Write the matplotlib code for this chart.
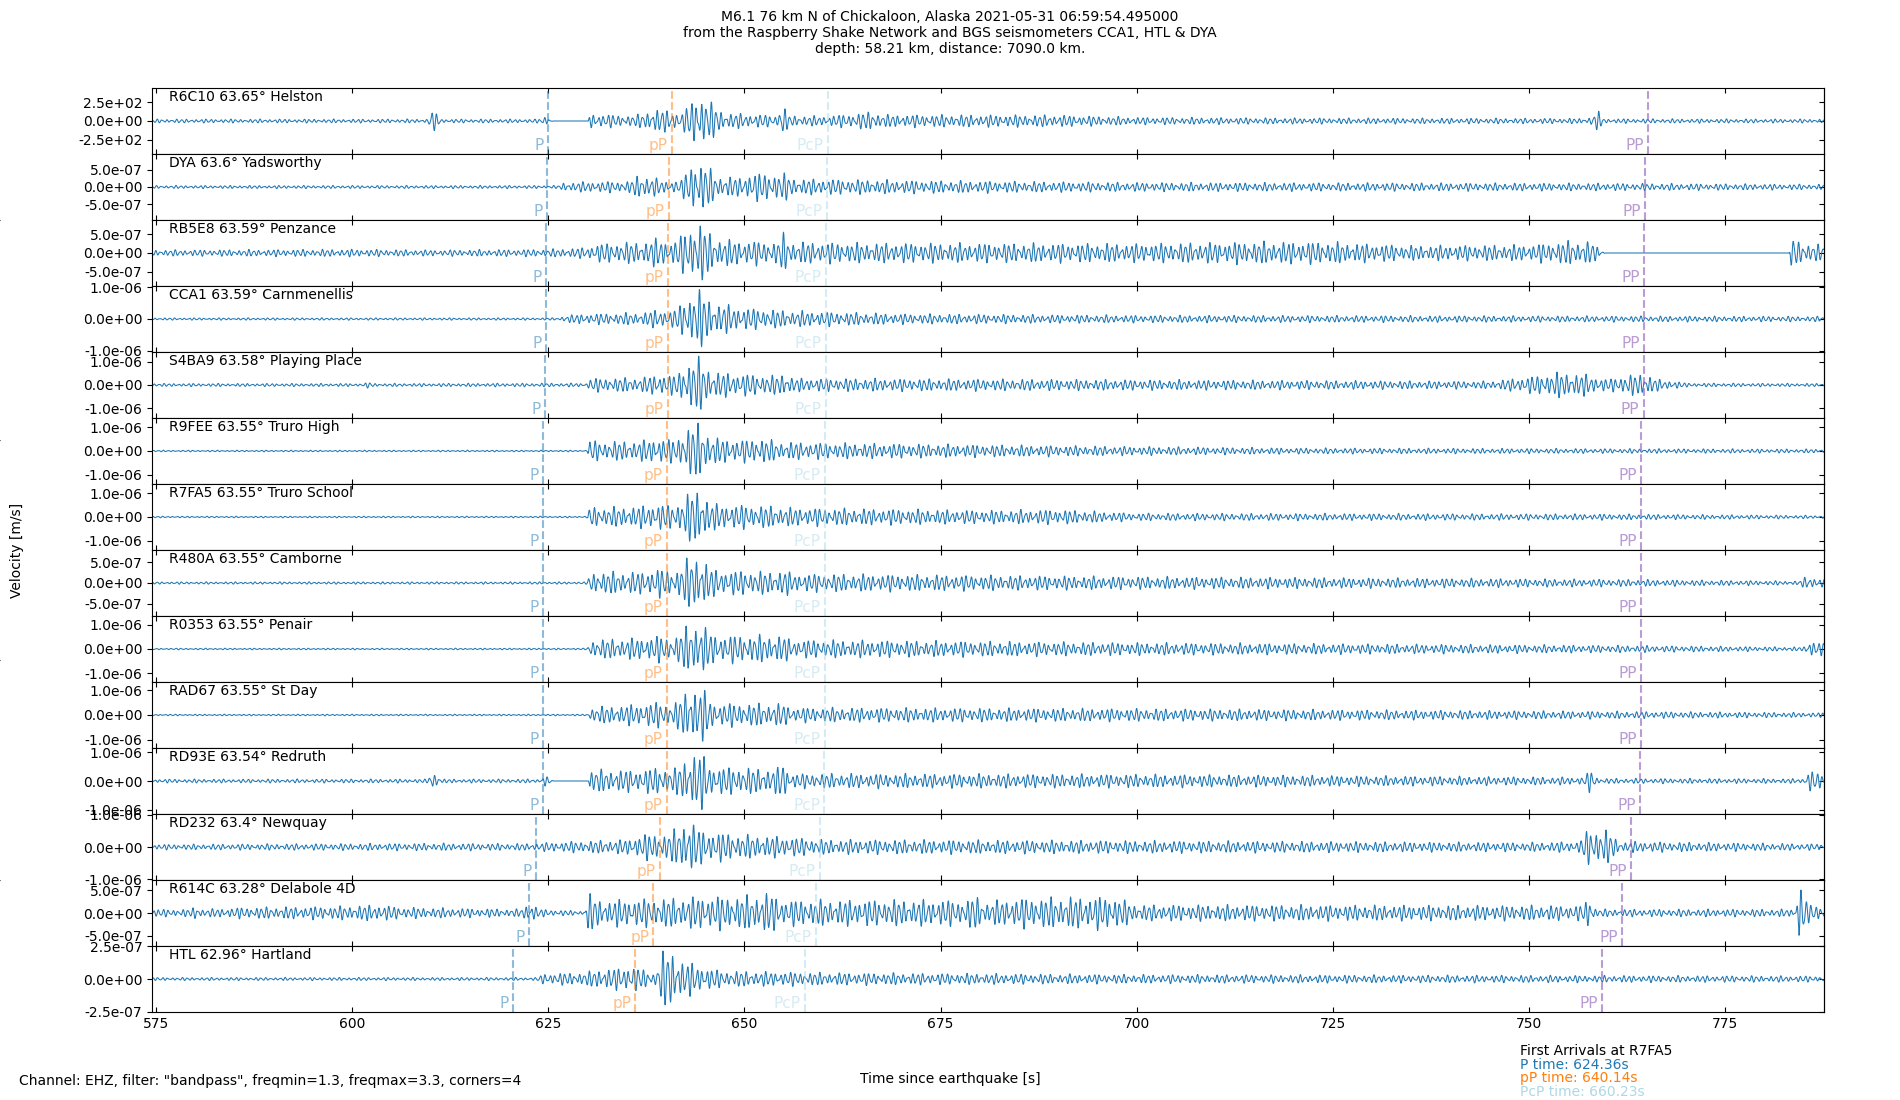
import numpy as np
import matplotlib
matplotlib.use('Agg')
import matplotlib.pyplot as plt
from matplotlib.ticker import FormatStrFormatter

# estaciones, de arriba a abajo
stations = ['R6C10', 'DYA', 'RB5E8', 'CCA1', 'S4BA9', 'R9FEE', 'R7FA5',
            'R480A', 'R0353', 'RAD67', 'RD93E', 'RD232', 'R614C', 'HTL']
distances = [63.65, 63.6, 63.59, 63.59, 63.58, 63.55, 63.55,
             63.55, 63.55, 63.55, 63.54, 63.4, 63.28, 62.96]
places = ['Helston', 'Yadsworthy', 'Penzance', 'Carnmenellis', 'Playing Place',
          'Truro High', 'Truro School', 'Camborne', 'Penair', 'St Day',
          'Redruth', 'Newquay', 'Delabole 4D', 'Hartland']

# tiempos de llegada [s]
p_times = [625.0, 624.8, 624.7, 624.7, 624.6, 624.36, 624.36,
           624.36, 624.36, 624.36, 624.3, 623.4, 622.6, 620.5]
pp_depth_times = [640.8, 640.4, 640.3, 640.3, 640.3, 640.14, 640.14,
                  640.14, 640.14, 640.14, 640.1, 639.2, 638.4, 636.1]
pcp_times = [660.6, 660.5, 660.4, 660.4, 660.4, 660.23, 660.23,
             660.23, 660.23, 660.23, 660.2, 659.6, 659.1, 657.7]
PP_times = [765.2, 764.8, 764.7, 764.7, 764.6, 764.3, 764.3,
            764.3, 764.3, 764.3, 764.2, 763.0, 761.9, 759.3]

# rango del eje y (m/s) y ticks de cada traza
y_half = [4.4e2, 9.7e-7, 8.8e-7, 1.04e-6, 1.43e-6, 1.4e-6, 1.4e-6,
          8.0e-7, 1.36e-6, 1.33e-6, 1.14e-6, 1.03e-6, 7.2e-7, 2.52e-7]
y_tick = [2.5e2, 5e-7, 5e-7, 1e-6, 1e-6, 1e-6, 1e-6,
          5e-7, 1e-6, 1e-6, 1e-6, 1e-6, 5e-7, 2.5e-7]

# envolventes: (tiempo, fraccion de y_half)
env_r6c10 = [(574.5, .05), (609.6, .05), (610.2, .3), (611.5, .05), (624.0, .05), (624.6, .14),
             (625.3, .05), (625.6, 0), (630.1, 0), (630.3, .2), (636, .14), (638, .3), (640.5, .3),
             (642, .2), (643.5, .6), (644.4, .73), (646, .45), (647.5, .22), (654.2, .15),
             (654.8, .5), (655.6, .15), (660, .13), (664, .2), (666, .25), (668, .17), (690, .16),
             (700, .1), (720, .08), (757.5, .07), (758.8, .27), (759.6, .06), (787.6, .05)]
env_dya = [(574.5, .04), (626.4, .04), (627, .12), (630, .14), (635.5, .16), (636.5, .32),
           (638.3, .3), (639.5, .15), (642, .2), (643.6, .75), (645.1, .6), (646.5, .3),
           (649.5, .25), (650.5, .38), (655.3, .36), (656.5, .22), (670, .18), (700, .12),
           (760, .1), (787.6, .07)]
env_rb5e8 = [(574.5, .08), (600, .1), (610, .08), (625, .1), (630, .15), (631, .25), (637, .3),
             (639, .4), (641, .3), (643.2, .75), (644.5, .8), (646, .45), (648, .35), (654.3, .3),
             (654.9, .55), (656, .3), (665, .27), (700, .25), (715, .3), (724, .3), (735, .2),
             (750, .22), (755, .32), (758, .3), (759.7, 0), (783.2, 0), (783.5, .45),
             (784.5, .3), (787.6, .2)]
env_cca1 = [(574.5, .03), (626.5, .03), (627, .1), (630, .14), (637, .17), (639, .26),
            (641, .22), (643.2, .7), (644.4, .78), (646, .45), (650, .3), (656, .22), (670, .14),
            (700, .1), (787.6, .07)]
env_s4ba9 = [(574.5, .04), (601.5, .04), (602, .08), (603, .04), (630, .05), (630.3, .18),
             (637, .2), (639, .3), (641, .25), (643.2, .68), (644.4, .72), (646, .35), (654, .25),
             (655, .32), (656.5, .18), (700, .14), (745, .1), (751, .25), (754, .35), (757, .3),
             (760, .15), (762.5, .28), (765.5, .28), (767, .1), (768.5, .13), (770, .05),
             (787.6, .04)]
env_r9fee = [(574.5, .02), (630.0, .02), (630.3, .3), (632, .25), (637, .28), (639, .36),
             (641, .3), (643.2, .7), (644.4, .75), (646, .35), (650, .3), (652.3, .36), (654, .25),
             (660, .22), (675, .18), (700, .12), (720, .08), (787.6, .05)]
env_r7fa5 = [(574.5, .02), (630.0, .02), (630.3, .3), (632, .25), (637, .3), (639, .36),
             (641, .3), (643.2, .7), (644.4, .74), (646, .35), (653, .3), (656, .25), (680, .18),
             (690, .2), (700, .1), (760, .08), (787.6, .04)]
env_r480a = [(574.5, .03), (630.0, .03), (630.3, .3), (637, .3), (639, .4), (641, .3),
             (643.2, .72), (644.4, .77), (646, .35), (654.3, .3), (654.9, .42), (656, .25),
             (700, .17), (760, .1), (784.5, .05), (785.3, .18), (787.6, .1)]
env_r0353 = [(574.5, .02), (630.0, .02), (630.3, .25), (637, .3), (639, .36), (641, .3),
             (643.2, .7), (644.4, .74), (646, .38), (655, .36), (656, .25), (700, .17),
             (760, .1), (785, .05), (785.8, .25), (787.6, .15)]
env_rad67 = [(574.5, .02), (630.0, .02), (630.3, .2), (637, .3), (639, .35), (641, .3),
             (643.2, .75), (644.4, .8), (646, .32), (655, .3), (656, .2), (700, .17),
             (760, .1), (787.6, .06)]
env_rd93e = [(574.5, .05), (609.6, .05), (610.2, .28), (611.5, .05), (624.0, .05), (624.6, .15),
             (625.3, .05), (625.6, 0), (630.1, 0), (630.3, .3), (637, .3), (639, .38), (641, .3),
             (643.2, .75), (644.2, .82), (646, .38), (654.2, .33), (654.8, .6), (655.7, .2),
             (700, .18), (757, .1), (757.8, .32), (758.8, .07), (785, .06), (785.7, .3),
             (787.6, .15)]
env_rd232 = [(574.5, .07), (610, .1), (622, .09), (628, .15), (635, .2), (637, .35), (640, .35),
             (641.5, .5), (642.7, .8), (644.5, .45), (650, .32), (655, .28), (660, .2), (700, .17),
             (750, .12), (756.5, .15), (757.5, .5), (760, .45), (761.5, .15), (787.6, .08)]
env_r614c = [(574.5, .1), (579.5, .1), (580, .2), (581, .1), (586, .15), (598, .18), (603, .22),
             (607, .15), (621.5, .1), (622.7, .3), (624, .1), (629.7, .05), (630, .55),
             (631.5, .35), (641, .4), (645, .45), (650, .45), (653, .55), (655, .35), (665, .35),
             (678.5, .35), (679.3, .5), (680.5, .3), (685, .4), (697, .45), (700, .22),
             (756.8, .2), (757.6, .45), (758.6, .1), (784, .1), (784.5, .95), (785.5, .25),
             (787.6, .2)]
env_htl = [(574.5, .04), (623.5, .04), (624.5, .15), (630, .18), (631, .26), (634.5, .3),
           (635.3, .38), (636.5, .3), (638.5, .15), (639.5, .7), (640.3, .8), (642, .55),
           (643.5, .4), (647, .22), (660, .17), (700, .12), (787.6, .08)]

envelopes = [env_r6c10, env_dya, env_rb5e8, env_cca1, env_s4ba9, env_r9fee, env_r7fa5,
             env_r480a, env_r0353, env_rad67, env_rd93e, env_rd232, env_r614c, env_htl]

t_start, t_end = 574.5, 787.6
fs = 25.0  # muestras por segundo

phase_names = ['P', 'pP', 'PcP', 'PP']
phase_colors = ['tab:blue', 'tab:orange', 'lightblue', 'tab:purple']
phase_alpha = [0.5, 0.5, 0.5, 0.65]


def traza(env, k):
    # forma de onda a partir de la envolvente
    t = np.arange(t_start, t_end, 1.0 / fs)
    et = np.array([e[0] for e in env])
    ev = np.array([e[1] for e in env])
    a = np.interp(t, et, ev)
    ph = 0.9 * k
    c = np.sin(2 * np.pi * 1.6 * t + ph) * (0.75 + 0.25 * np.sin(2 * np.pi * 0.31 * t + ph))
    c += 0.3 * np.sin(2 * np.pi * 2.45 * t + 1.7 * ph)
    return t, a * c / 1.05


fig = plt.figure(figsize=(19, 11), dpi=100)

# eje grande de fondo (solo marcas)
bigax = fig.add_axes([0, 0, 1, 1], frameon=False)
bigax.set_xticks([])
bigax.set_yticks([0.2, 0.4, 0.6, 0.8])
bigax.set_yticklabels([])

axs = fig.subplots(len(stations), 1, sharex=True, gridspec_kw=dict(hspace=0))
fig.subplots_adjust(left=0.08, right=0.96, top=0.92, bottom=0.08)

for k, ax in enumerate(axs):
    t, y = traza(envelopes[k], k)
    ax.plot(t, y * y_half[k], color='#1f77b4', lw=0.75)
    ax.set_xlim(t_start, t_end)
    ax.set_ylim(-y_half[k], y_half[k])
    ticks = [-y_tick[k], 0, y_tick[k]]
    ax.set_yticks(ticks)
    ax.yaxis.set_major_formatter(FormatStrFormatter('%.1e'))
    ax.tick_params(axis='x', direction='in', top=True, labelsize=10)
    ax.tick_params(axis='y', direction='out', labelsize=10)
    sec = ax.secondary_yaxis('right')
    sec.set_yticks(ticks)
    sec.tick_params(direction='in', labelright=False)

    ax.text(0.01, 0.965, f'{stations[k]} {distances[k]}° {places[k]}',
            transform=ax.transAxes, ha='left', va='top', fontsize=10)

    tiempos = [p_times[k], pp_depth_times[k], pcp_times[k], PP_times[k]]
    for tt, nombre, col, al in zip(tiempos, phase_names, phase_colors, phase_alpha):
        ax.axvline(tt, color=col, alpha=al, ls='--', lw=1.5)
        ax.annotate(nombre, xy=(tt, 0.02), xycoords=('data', 'axes fraction'),
                    xytext=(-3, 0), textcoords='offset points',
                    ha='right', va='bottom', color=col, alpha=al, fontsize=11)

axs[-1].set_xticks(np.arange(575, 776, 25))

fig.suptitle('M6.1 76 km N of Chickaloon, Alaska 2021-05-31 06:59:54.495000\n'
             'from the Raspberry Shake Network and BGS seismometers CCA1, HTL & DYA\n'
             'depth: 58.21 km, distance: 7090.0 km.', y=0.991, va='top', fontsize=10)

fig.text(0.009, 0.5, 'Velocity [m/s]', rotation=90, ha='center', va='center', fontsize=10)
fig.text(0.5, 0.019, 'Time since earthquake [s]', ha='center', va='center', fontsize=10)
fig.text(0.01, 0.0173, 'Channel: EHZ, filter: "bandpass", freqmin=1.3, freqmax=3.3, corners=4',
         ha='left', va='center', fontsize=10)

fig.text(0.8, 0.0448, 'First Arrivals at R7FA5', ha='left', va='center', fontsize=10)
fig.text(0.8, 0.0318, 'P time: 624.36s', color='tab:blue', ha='left', va='center', fontsize=10)
fig.text(0.8, 0.0197, 'pP time: 640.14s', color='tab:orange', ha='left', va='center', fontsize=10)
fig.text(0.8, 0.0076, 'PcP time: 660.23s', color='lightblue', ha='left', va='center', fontsize=10)

fig.savefig('out.png', dpi=100)
